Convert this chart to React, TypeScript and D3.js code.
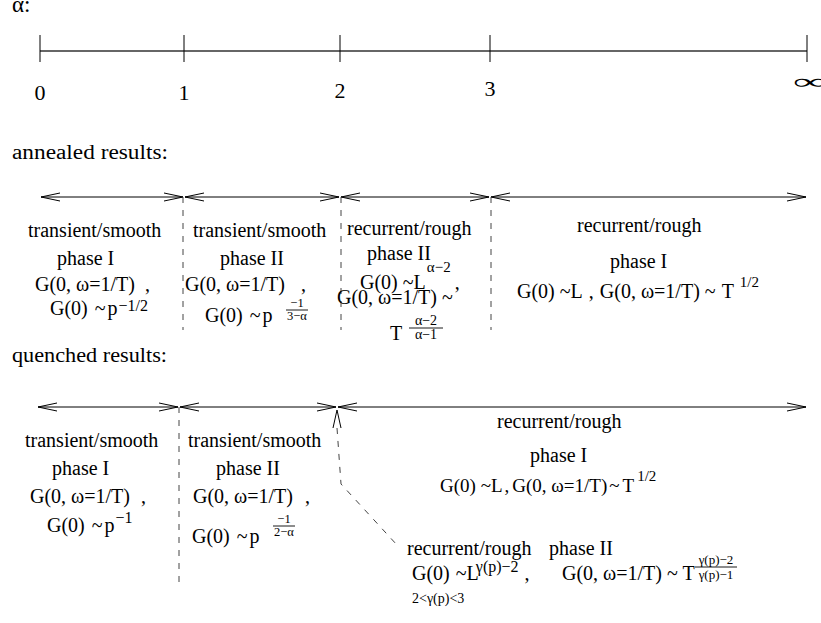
import React from 'react';
import * as d3 from 'd3';

// ---- data ----
const alphaIndex = [0, 1, 2, 3, 4];
const alphaLabels = ['0', '1', '2', '3', '\u221E'];
const annealedSegments: [number, number][] = [[0, 1], [1, 2], [2, 3], [3, 4]];
const annealedBoundaries = [1, 2, 3];
const quenchedSegments: [number, number][] = [[0, 1], [1, 2], [2, 4]];
const quenchedBoundaries = [1];
const headers = ['annealed results:', 'quenched results:'];

// ---- layout ----
const W = 821, H = 623;
const FONT = "'Liberation Serif', 'Times New Roman', serif";
const FS = 20;
const xAxis = d3.scaleLinear().domain(alphaIndex).range([40, 184, 340, 490, 807]);
const xQ = d3.scaleLinear().domain(alphaIndex).range([37, 179, 337, 487, 807]);
const tickLabelBaseline = [100, 100, 98, 96, 89];
const axisY = 51;
const annY = 197;
const queY = 407;

function DArrow({ x1, x2, y }: { x1: number; x2: number; y: number }) {
  const L = 19, h = 4;
  return (
    <g stroke="#000" strokeWidth={1} fill="none">
      <line x1={x1} x2={x2} y1={y} y2={y} />
      <polyline points={`${x1 + L},${y - h} ${x1},${y} ${x1 + L},${y + h}`} />
      <polyline points={`${x2 - L},${y - h} ${x2},${y} ${x2 - L},${y + h}`} />
    </g>
  );
}

function Tx({ x, y, s = FS, children, anchor = 'start', ...rest }: any) {
  return (
    <text x={x} y={y} fontSize={s} textAnchor={anchor} fontFamily={FONT} fill="#000" {...rest}>
      {children}
    </text>
  );
}

function Frac({ cx, y, num, den, s = 12.5, w, gapN = 3, gapD = 10 }: any) {
  return (
    <g>
      <Tx x={cx} y={y - gapN} s={s} anchor="middle">{num}</Tx>
      <line x1={cx - w / 2} x2={cx + w / 2} y1={y} y2={y} stroke="#000" strokeWidth={0.9} />
      <Tx x={cx} y={y + gapD} s={s} anchor="middle">{den}</Tx>
    </g>
  );
}

export default function App() {
  const line = d3.line();
  const dashedPath = line([[337, 428], [341, 484], [397, 545]]) as string;
  return (
    <svg width={W} height={H} style={{ position: 'absolute', left: 0, top: 0, background: '#fff' }}>
      <rect width={W} height={H} fill="#fff" />
      {/* alpha axis */}
      <Tx x={12} y={12} s={23}>α:</Tx>
      <line x1={xAxis(0)} x2={xAxis(4)} y1={axisY} y2={axisY} stroke="#333" strokeWidth={1.3} />
      {alphaIndex.map((d, i) => (
        <g key={d}>
          <line x1={xAxis(d)} x2={xAxis(d)} y1={35} y2={62} stroke="#000" strokeWidth={1} />
          {i < 4 ? (
            <Tx x={xAxis(d)} y={tickLabelBaseline[i]} s={22} anchor="middle">{alphaLabels[i]}</Tx>
          ) : (
            <Tx x={xAxis(d) - 14} y={tickLabelBaseline[i]} s={22} textLength={34} lengthAdjust="spacingAndGlyphs">{alphaLabels[i]}</Tx>
          )}
        </g>
      ))}

      {/* annealed */}
      <Tx x={12} y={159} s={20} textLength={156} lengthAdjust="spacingAndGlyphs">{headers[0]}</Tx>
      {annealedSegments.map(([a, b]) => (
        <DArrow key={a} x1={xAxis(a) + 1} x2={xAxis(b) - 1} y={annY} />
      ))}
      {annealedBoundaries.map((d) => (
        <line key={d} x1={xAxis(d) + (d === 1 ? -1 : 1)} x2={xAxis(d) + (d === 1 ? -1 : 1)} y1={annY} y2={330}
          stroke="#444" strokeWidth={1} strokeDasharray="6,7" />
      ))}
      {/* col 1 */}
      <Tx x={28} y={237}>transient/smooth</Tx>
      <Tx x={57} y={265}>phase I</Tx>
      <Tx x={35} y={291}>G(0, ω=1/T)</Tx>
      <Tx x={145} y={291}>,</Tx>
      <Tx x={50} y={315}>G(0)<tspan dx={7}>~</tspan><tspan dx={2}>p</tspan><tspan dx={1} dy={-4} fontSize={16}>−1/2</tspan></Tx>
      {/* col 2 */}
      <Tx x={193} y={237}>transient/smooth</Tx>
      <Tx x={220} y={265}>phase II</Tx>
      <Tx x={185} y={291}>G(0, ω=1/T)</Tx>
      <Tx x={301} y={291}>,</Tx>
      <Tx x={205} y={322}>G(0)<tspan dx={7}>~</tspan><tspan dx={2}>p</tspan></Tx>
      <Frac cx={297} y={310} num="−1" den="3−α" w={22} />
      {/* col 3 */}
      <Tx x={347} y={235}>recurrent/rough</Tx>
      <Tx x={367} y={260}>phase II</Tx>
      <Tx x={360} y={289}>G(0)<tspan dx={5}>~L</tspan><tspan dx={1} dy={-17} fontSize={15}>α−2</tspan><tspan dy={17} dx={4}>,</tspan></Tx>
      <Tx x={337} y={304}>G(0, ω=1/T) ~</Tx>
      <Tx x={390} y={340}>T</Tx>
      <Frac cx={426} y={328} num="α−2" den="α−1" s={14} w={34} gapN={3} gapD={11} />
      {/* col 4 */}
      <Tx x={577} y={232}>recurrent/rough</Tx>
      <Tx x={610} y={268}>phase I</Tx>
      <Tx x={517} y={298}>G(0) ~L<tspan dx={6}>,</tspan><tspan dx={6}>G(0, ω=1/T)</tspan><tspan dx={5}>~</tspan><tspan dx={6}>T</tspan><tspan dx={6} dy={-11} fontSize={15}>1/2</tspan></Tx>

      {/* quenched */}
      <Tx x={12} y={362} s={20} textLength={155} lengthAdjust="spacingAndGlyphs">{headers[1]}</Tx>
      {quenchedSegments.map(([a, b]) => (
        <DArrow key={a} x1={xQ(a) + 1} x2={xQ(b) - 1} y={queY} />
      ))}
      {quenchedBoundaries.map((d) => (
        <line key={d} x1={xQ(d)} x2={xQ(d)} y1={queY} y2={585}
          stroke="#444" strokeWidth={1} strokeDasharray="6,7" />
      ))}
      <path d={dashedPath} fill="none" stroke="#444" strokeWidth={1} strokeDasharray="6,7" />
      <polyline points={`333,428 337,410 341,428`} fill="none" stroke="#000" strokeWidth={1} />
      {/* col 1 */}
      <Tx x={25} y={447}>transient/smooth</Tx>
      <Tx x={52} y={475}>phase I</Tx>
      <Tx x={30} y={503}>G(0, ω=1/T)</Tx>
      <Tx x={141} y={503}>,</Tx>
      <Tx x={47} y={532}>G(0)<tspan dx={7}>~</tspan><tspan dx={2}>p</tspan><tspan dx={1} dy={-9} fontSize={16}>−1</tspan></Tx>
      {/* col 2 */}
      <Tx x={188} y={447}>transient/smooth</Tx>
      <Tx x={216} y={475}>phase II</Tx>
      <Tx x={193} y={503}>G(0, ω=1/T)</Tx>
      <Tx x={305} y={503}>,</Tx>
      <Tx x={192} y={543}>G(0)<tspan dx={7}>~</tspan><tspan dx={2}>p</tspan></Tx>
      <Frac cx={284} y={526} num="−1" den="2−α" w={22} />
      {/* col 3 */}
      <Tx x={497} y={428}>recurrent/rough</Tx>
      <Tx x={530} y={462}>phase I</Tx>
      <Tx x={440} y={492} s={19}>G(0) ~L<tspan dx={2}>,</tspan><tspan dx={3}>G(0, ω=1/T)</tspan><tspan dx={2}>~</tspan><tspan dx={3}>T</tspan><tspan dx={3} dy={-11} fontSize={15}>1/2</tspan></Tx>
      <Tx x={407} y={555}>recurrent/rough</Tx>
      <Tx x={549} y={555}>phase II</Tx>
      <Tx x={412} y={580}>G(0)<tspan dx={6}>~L</tspan><tspan dx={-3} dy={-8} fontSize={16}>γ(p)−2</tspan><tspan dy={8} dx={6}>,</tspan></Tx>
      <Tx x={562} y={580}>G(0, ω=1/T) ~ T</Tx>
      <Frac cx={716} y={567} num="γ(p)−2" den="γ(p)−1" s={13} w={42} gapN={3} gapD={12} />
      <Tx x={412} y={603} s={14}>2&lt;γ(p)&lt;3</Tx>
    </svg>
  );
}
